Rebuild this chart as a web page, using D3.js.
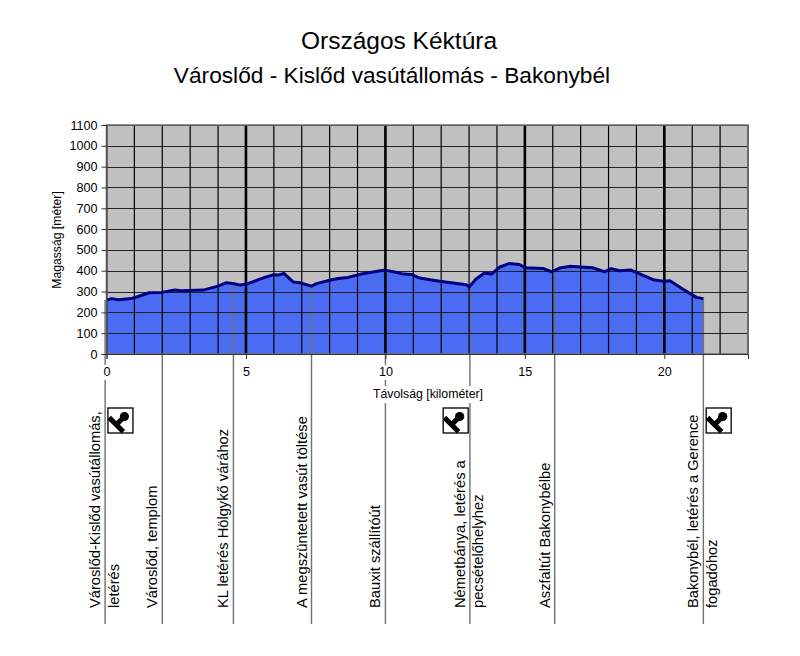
<!DOCTYPE html>
<html><head><meta charset="utf-8">
<script src="https://cdn.jsdelivr.net/npm/d3@7/dist/d3.min.js"></script>
<style>html,body{margin:0;background:#fff}svg{display:block}text{font-family:"Liberation Sans",Arial,sans-serif;fill:#000}</style>
</head><body><svg id="c" width="800" height="656"></svg>
<script>
const titles = ["Országos Kéktúra", "Városlőd - Kislőd vasútállomás - Bakonybél"];
const yTitle = "Magasság [méter]";
const xTitle = "Távolság [kilométer]";
const km = [0,0.18,0.42,0.9,1.08,1.53,1.97,2.45,2.7,3.46,4.0,4.28,4.54,4.8,5.02,5.67,6.0,6.15,6.36,6.69,6.93,7.35,7.53,8.0,8.3,8.66,9.14,9.56,9.98,10.33,10.57,10.93,11.23,11.6,11.95,12.43,12.9,13.0,13.25,13.55,13.8,14.1,14.45,14.8,15.04,15.65,15.95,16.25,16.6,17.45,17.85,18.1,18.4,18.8,19.0,19.6,19.95,20.2,20.7,21.15,21.4];
const elevation = [259,266,261,267,274,294,296,307,304,307,326,342,339,331,336,368,381,379,387,346,342,326,338,354,363,368,384,394,403,394,386,382,365,357,349,341,333,322,360,389,384,418,435,430,414,411,395,413,421,414,395,410,400,403,392,357,350,352,309,272,266];
const stationKm = [-0.05,2,4.55,7.35,10,13.03,16.07,21.4];
const stationElev = [259,296,339,326,403,322,395,266];
const stationLines = [
  ["Városlőd-Kislőd vasútállomás,","letérés"],
  ["Városlőd, templom"],
  ["KL letérés Hölgykő várához"],
  ["A megszüntetett vasút töltése"],
  ["Bauxit szállítóút"],
  ["Németbánya, letérés a","pecsételőhelyhez"],
  ["Aszfaltút Bakonybélbe"],
  ["Bakonybél, letérés a Gerence","fogadóhoz"]
];
const stampKm = [0.5,12.52,21.95];
const yTicks = d3.range(0,1101,100);
const xMajor = [0,5,10,15,20];
const xGrid = d3.range(1,24);

const L=106.5,R=748,T=125,B=354;
const x=d3.scaleLinear().domain([0,23]).range([L,R]);
const y=d3.scaleLinear().domain([0,1100]).range([B,T]);
const svg=d3.select("#c");
const pts=km.map((k,i)=>[k,elevation[i]]);

titles.forEach((t,i)=>svg.append("text").attr("x",i?392:399).attr("y",i?83:49).attr("text-anchor","middle").attr("font-size",i?22.7:24.5).text(t));

svg.append("rect").attr("x",L).attr("y",T).attr("width",R-L).attr("height",B-T).attr("fill","#c0c0c0");
svg.append("path").datum(pts).attr("fill","#4a6cf2")
  .attr("d",d3.area().x(d=>x(d[0])).y0(B).y1(d=>y(d[1])));

// station lines
svg.append("g").selectAll("line").data(stationKm).join("line")
  .attr("x1",d=>x(d)).attr("x2",d=>x(d))
  .attr("y1",(d,i)=>y(stationElev[i])).attr("y2",624)
  .attr("stroke","#707070").attr("stroke-width",1.4);

// grid
svg.append("g").selectAll("line").data(yTicks.slice(1)).join("line")
  .attr("x1",L).attr("x2",R).attr("y1",d=>Math.round(y(d))+.5).attr("y2",d=>Math.round(y(d))+.5)
  .attr("stroke","#222").attr("stroke-width",1.1);
svg.append("g").selectAll("line").data(xGrid).join("line")
  .attr("x1",d=>x(d)).attr("x2",d=>x(d)).attr("y1",T).attr("y2",B)
  .attr("stroke","#000").attr("stroke-width",d=>d%5===0?2.6:1.2);

svg.append("path").datum(pts).attr("fill","none").attr("stroke","#000080").attr("stroke-width",3).attr("stroke-linejoin","round")
  .attr("d",d3.line().x(d=>x(d[0])).y(d=>y(d[1])));

// plot frame
svg.append("path").attr("d",`M${L},${T}H${R}V${B}H${L}Z`).attr("fill","none").attr("stroke","#707070").attr("stroke-width",1.6);

// axes
const gy=svg.append("g").attr("transform",`translate(${L},0)`).call(d3.axisLeft(y).tickValues(yTicks).tickSize(5).tickPadding(4).tickFormat(d3.format("d")));
const gx=svg.append("g").attr("transform",`translate(0,${B})`).call(d3.axisBottom(x).tickValues(xMajor).tickSize(5).tickPadding(8).tickFormat(d3.format("d")));
[gy,gx].forEach(g=>{g.select(".domain").attr("stroke","#333");g.selectAll(".tick line").attr("stroke","#333");
  g.selectAll("text").attr("font-size",12.6).attr("font-family","Liberation Sans").attr("fill","#000");});
gx.selectAll(".tick").each(function(){
  const t=d3.select(this),b=t.select("text").node().getBBox();
  t.insert("rect","text").attr("x",b.x-1).attr("y",b.y).attr("width",b.width+2).attr("height",b.height+1).attr("fill","#fff");
});

svg.append("text").attr("transform",`translate(61,240) rotate(-90)`).attr("text-anchor","middle").attr("font-size",12.2).text(yTitle);
const xtg=svg.append("g");
const bgRect=xtg.append("rect");
const xt=xtg.append("text").attr("x",428).attr("y",398).attr("text-anchor","middle").attr("font-size",12.3).text(xTitle);
const bb=xt.node().getBBox();
bgRect.attr("x",bb.x).attr("y",bb.y-1).attr("width",bb.width).attr("height",17).attr("fill","#fff");

// station labels
const lab=svg.append("g").selectAll("g").data(stationKm).join("g")
  .attr("transform",d=>`translate(${x(d)},608) rotate(-90)`);
lab.each(function(d,i){
  d3.select(this).selectAll("text").data(stationLines[i]).join("text")
    .attr("x",0).attr("y",(t,j)=>j===0?-5:13.5).attr("font-size",14.7).text(t=>t);
});

// stamps
const st=svg.append("g").selectAll("g").data(stampKm).join("g")
  .attr("transform",d=>`translate(${x(d)},420.5)`);
st.append("rect").attr("x",-12.5).attr("y",-12.5).attr("width",25).attr("height",25).attr("fill","#fff").attr("stroke","#111").attr("stroke-width",1.4);
const s=st.append("g").attr("transform","translate(-1,1) rotate(45)");
s.append("rect").attr("x",-10).attr("y",2).attr("width",20).attr("height",5).attr("fill","#000");
s.append("rect").attr("x",-2.5).attr("y",-5).attr("width",5).attr("height",8).attr("fill","#000");
s.append("circle").attr("cx",0).attr("cy",-7).attr("r",4.6).attr("fill","#000");
</script></body></html>
